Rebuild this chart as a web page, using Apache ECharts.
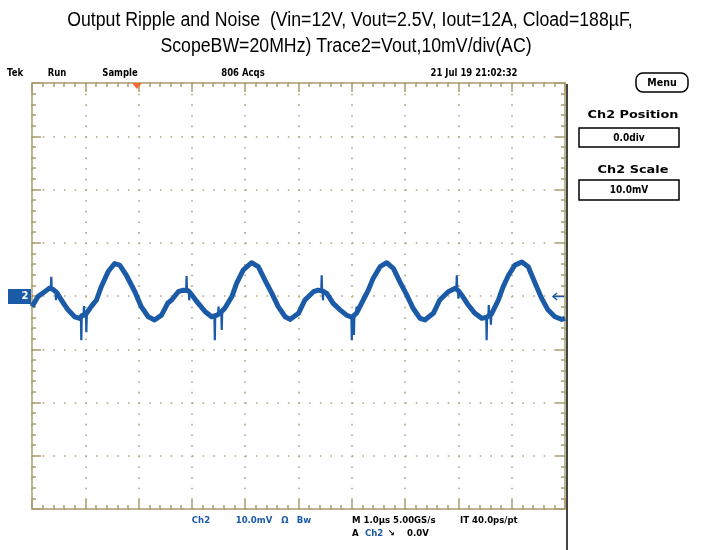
<!DOCTYPE html>
<html><head><meta charset="utf-8">
<script src="https://cdn.jsdelivr.net/npm/echarts@6/dist/echarts.min.js"></script>
<style>html,body{margin:0;padding:0;background:#fff}#c{width:708px;height:550px}</style>
</head><body><div id="c"></div>
<script>
// ---- data ----
const titleLines = [
  'Output Ripple and Noise  (Vin=12V, Vout=2.5V, Iout=12A, Cload=188\u00B5F,',
  'ScopeBW=20MHz) Trace2=Vout,10mV/div(AC)'
];
const headerLabels = ['Tek', 'Run', 'Sample', '806 Acqs', '21 Jul 19 21:02:32'];
const panelLabels = ['Menu', 'Ch2 Position', '0.0div', 'Ch2 Scale', '10.0mV'];
const footerRow1 = ['Ch2', '10.0mV', '\u03A9', 'Bw', 'M 1.0\u00B5s 5.00GS/s', 'IT 40.0ps/pt'];
const footerRow2 = ['A', 'Ch2', '\u2198', '0.0V'];
const timeDivUs = 1;       // horizontal: 1 us / div, 10 div
const voltDivMv = 10;      // vertical: 10 mV / div, 8 div

// main ripple trace (Ch2, mV vs us)
const timeUs = [0, 0.113, 0.238, 0.332, 0.40, 0.469, 0.55, 0.675, 0.80, 0.895, 0.947, 1.0, 1.04, 1.11, 1.21, 1.30, 1.43, 1.55, 1.645, 1.77, 1.93, 2.05, 2.18, 2.30, 2.43, 2.55,
  2.62, 2.745, 2.84, 2.93, 3.00, 3.12, 3.245, 3.37, 3.47, 3.55, 3.62, 3.75, 3.84, 3.965, 4.12, 4.245, 4.37, 4.50, 4.62, 4.75, 4.84, 5.00, 5.12,
  5.155, 5.28, 5.37, 5.46, 5.53, 5.65, 5.78, 5.90, 6.00, 6.09, 6.215, 6.31, 6.40, 6.53, 6.655, 6.78, 6.90, 7.03, 7.15, 7.28, 7.37, 7.53, 7.65,
  7.81, 7.94, 8.0, 8.06, 8.185, 8.31, 8.44, 8.53, 8.62, 8.75, 8.84, 8.94, 9.06, 9.19, 9.31, 9.44, 9.56, 9.68, 9.81, 9.94, 10.0];
const rippleMv = [-2.0, -0.1, 0.8, 1.5, 1.2, 0.6, -0.75, -2.6, -3.9, -4.2, -3.6, -3.6, -3.0, -2.0, -0.75, 1.75, 4.6, 6.1, 5.8, 3.9, 0.8, -2.0, -3.9, -4.5, -3.6, -1.3,
  -0.75, 0.8, 1.1, 1.0, 0.2, -1.4, -2.9, -3.9, -3.6, -3.0, -2.25, -0.1, 2.4, 4.9, 6.25, 5.5, 3.0, 0.5, -2.0, -3.9, -4.4, -3.25, -0.75,
  -0.4, 0.8, 1.1, 0.9, 0.5, -1.4, -2.6, -3.6, -4.0, -3.2, -0.75, 1.1, 3.3, 5.5, 6.25, 5.2, 2.7, 0.2, -2.3, -4.2, -4.5, -3.25, -0.75,
  0.8, 1.45, 1.0, 0.2, -1.7, -3.25, -4.2, -4.0, -3.4, -0.75, 1.75, 3.9, 5.8, 6.4, 5.5, 2.4, -0.4, -2.6, -3.9, -4.4, -4.2];

// switching-noise spikes: time, trace level, spike extreme (mV)
const spikeTimeUs = [0.362, 0.45, 0.925, 0.976, 1.02, 2.90, 2.95, 3.43, 3.50, 3.56, 5.435, 5.46, 6.00, 6.04, 6.09, 7.97, 8.00, 8.53, 8.57, 8.61];
const spikeBaseMv = [1.3, 1.2, -4.0, -3.8, -3.6, 1.0, 1.0, -3.8, -3.6, -3.2, 1.0, 0.9, -4.0, -3.8, -3.2, 1.3, 1.0, -4.0, -3.8, -3.5];
const spikePeakMv = [3.6, -0.8, -8.3, -1.9, -6.8, 3.75, -0.8, -8.3, -2.0, -6.4, 3.9, -0.8, -8.3, -7.3, -2.0, 3.9, -0.5, -8.3, -1.7, -5.4];

// ---- styling ----
const traceBlue = '#1b5aa7';
const gridColor = '#a99c6d';
const dotColor = '#b0a47c';
const G = {left: 32, top: 83, width: 533, height: 426};

function axis(pos, isX, split) {
  return {
    type: 'value', position: pos,
    min: isX ? 0 : -4 * voltDivMv, max: isX ? 10 * timeDivUs : 4 * voltDivMv,
    interval: isX ? timeDivUs : voltDivMv,
    axisLine: {show: true, onZero: false, lineStyle: {color: gridColor, width: 1.5}},
    axisTick: {show: true, inside: true, length: 9, lineStyle: {color: gridColor, width: 1.5}},
    minorTick: {show: true, splitNumber: 5, length: 4, lineStyle: {color: gridColor, width: 1.5}},
    axisLabel: {show: false},
    splitLine: {show: split, lineStyle: {color: dotColor, width: 1.6, type: [1.6, isX ? 9.05 : 9.06]}},
    minorSplitLine: {show: false}
  };
}

function T(text, x, y, o) {
  o = o || {};
  return {
    type: 'text', x: x, y: y, scaleX: o.sx || 1, z: 100,
    style: {
      text: text, fill: o.color || '#000',
      fontSize: o.size || 10, fontFamily: o.family || 'DejaVu Sans',
      fontWeight: o.weight || 'normal',
      align: o.align || 'center', verticalAlign: 'middle'
    }
  };
}

const titleFont = {size: 20, family: 'Liberation Sans', sx: 0.885};
const hdr = {size: 10, weight: 'bold', sx: 0.85};
const foot = {size: 9, weight: 'bold', sx: 0.95};
const footBlue = Object.assign({}, foot, {color: traceBlue});
const panelHead = {size: 11, weight: 'bold', sx: 1.17};
const panelVal = {size: 10, weight: 'bold', sx: 0.9};

const graphic = [
  T(titleLines[0], 350, 20, titleFont),
  T(titleLines[1], 346, 46, titleFont),
  T(headerLabels[0], 15, 73, hdr),
  T(headerLabels[1], 57, 73, hdr),
  T(headerLabels[2], 120, 73, hdr),
  T(headerLabels[3], 243, 73, hdr),
  T(headerLabels[4], 474, 73, hdr),
  // trigger position marker
  {type: 'polygon', z: 100, shape: {points: [[132, 83], [142, 83], [137, 89]]}, style: {fill: '#f26a2e'}},
  // menu button
  {type: 'rect', z: 100, shape: {x: 636, y: 73, width: 52, height: 19, r: 7}, style: {fill: '#fff', stroke: '#000', lineWidth: 1.5}},
  T(panelLabels[0], 662, 83, {size: 10, weight: 'bold', sx: 0.95}),
  T(panelLabels[1], 633, 115, panelHead),
  {type: 'rect', z: 100, shape: {x: 579, y: 128, width: 100, height: 19}, style: {fill: '#fff', stroke: '#000', lineWidth: 1.5}},
  T(panelLabels[2], 629, 138, panelVal),
  T(panelLabels[3], 633, 170, panelHead),
  {type: 'rect', z: 100, shape: {x: 579, y: 180, width: 100, height: 20}, style: {fill: '#fff', stroke: '#000', lineWidth: 1.5}},
  T(panelLabels[4], 629, 190, panelVal),
  // separator line of the scope screen
  {type: 'line', z: 100, shape: {x1: 567, y1: 84, x2: 567, y2: 550}, style: {stroke: '#444', lineWidth: 2}},
  // ground marker
  {type: 'rect', z: 100, shape: {x: 8, y: 289, width: 23, height: 15}, style: {fill: traceBlue}},
  T('2', 25, 296.5, {size: 10, weight: 'bold', color: '#fff'}),
  // trigger level arrow
  {type: 'line', z: 100, shape: {x1: 553, y1: 296.5, x2: 564, y2: 296.5}, style: {stroke: traceBlue, lineWidth: 1.5}},
  {type: 'polyline', z: 100, shape: {points: [[557, 293], [553, 296.5], [557, 300]]}, style: {stroke: traceBlue, lineWidth: 1.5, fill: null}},
  // footer
  T(footerRow1[0], 201, 521, footBlue),
  T(footerRow1[1], 254, 521, footBlue),
  T(footerRow1[2], 285, 521, footBlue),
  T(footerRow1[3], 304, 521, footBlue),
  T(footerRow1[4], 352, 521, Object.assign({}, foot, {align: 'left'})),
  T(footerRow1[5], 460, 521, Object.assign({}, foot, {align: 'left'})),
  T(footerRow2[0], 352, 534, Object.assign({}, foot, {align: 'left'})),
  T(footerRow2[1], 365, 534, Object.assign({}, footBlue, {align: 'left'})),
  T(footerRow2[2], 391, 534, foot),
  T(footerRow2[3], 407, 534, Object.assign({}, foot, {align: 'left'}))
];

// spike segments: base -> extreme -> back, separated by gaps
const spikeData = [];
spikeTimeUs.forEach((t, i) => {
  spikeData.push([t - 0.008, spikeBaseMv[i]], [t, spikePeakMv[i]], [t + 0.008, spikeBaseMv[i]], [t, '-']);
});

const chart = echarts.init(document.getElementById('c'), null, {renderer: 'canvas'});
chart.setOption({
  animation: false,
  backgroundColor: '#fff',
  grid: Object.assign({}, G, {containLabel: false}),
  xAxis: [axis('bottom', true, true), axis('top', true, false)],
  yAxis: [axis('left', false, true), axis('right', false, false)],
  series: [{
    type: 'line', xAxisIndex: 0, yAxisIndex: 0,
    data: timeUs.map((t, i) => [t, rippleMv[i]]),
    showSymbol: false, symbol: 'none', clip: true, z: 10,
    lineStyle: {color: traceBlue, width: 5, join: 'round'}
  }, {
    type: 'line', xAxisIndex: 0, yAxisIndex: 0,
    data: spikeData, connectNulls: false,
    showSymbol: false, symbol: 'none', clip: true, z: 11,
    lineStyle: {color: traceBlue, width: 2.2}
  }],
  graphic: graphic
});
</script>
</body></html>
